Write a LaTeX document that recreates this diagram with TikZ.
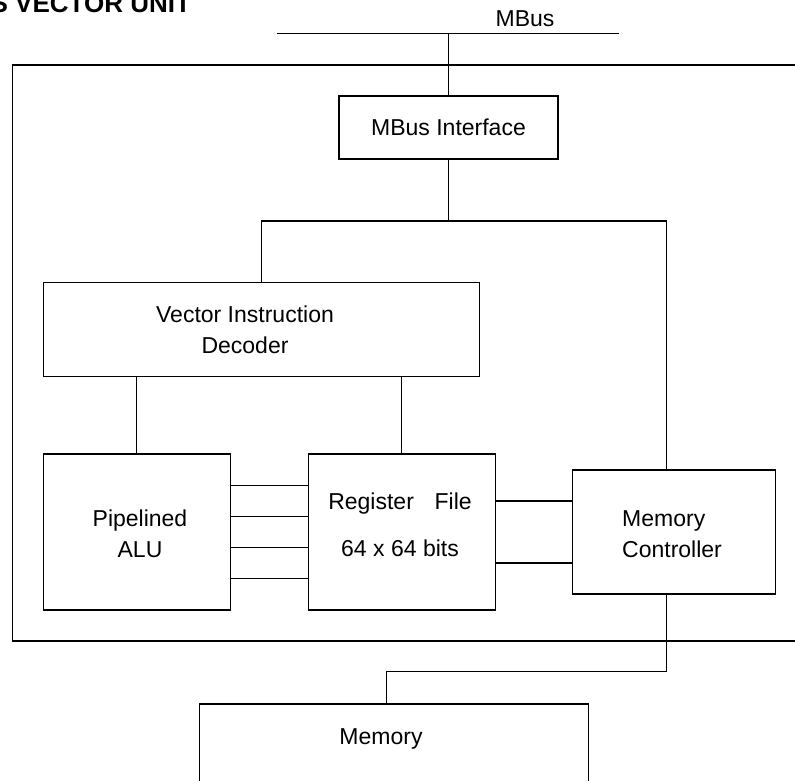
\documentclass[tikz,border=0pt]{standalone}
\usepackage{fontspec}
\setmainfont{Liberation Sans}
\usetikzlibrary{calc}
\tikzset{
  every picture/.style={
    x=1pt, y=-1pt,                  % one unit is one pixel of the sheet
    line join=miter,
  },
  unit/.style={draw, line width=1.3pt, inner sep=0pt},
  wire/.style={line width=1.1pt},
  txt/.style={font=\fontsize{23}{31}\selectfont, inner sep=0pt},
}

\begin{document}
\begin{tikzpicture}
\useasboundingbox (0,0) rectangle (795,780);
% title and bus
\node[anchor=base west, inner sep=0pt, font=\fontsize{26}{30}\selectfont\bfseries] (title) at (-9.5,12) {S VECTOR UNIT};
\coordinate (busL) at (277,33.3);
\coordinate (busR) at (619,33.3);
\draw[wire] (busL) -- (busR);
\node[txt, anchor=base] (buslbl) at (525,26.7) {MBus};
% outline of the unit
\draw[unit] (12.7,65) rectangle (805,641);
% blocks
\node[unit, txt, minimum width=219pt, minimum height=63pt] (mbi) at (448.5,127.5) {MBus Interface};
\node[unit, minimum width=436pt, minimum height=94pt] (vid) at (261.4,329.8) {};
\node[txt, align=center] (vidlbl) at (245,330) {Vector Instruction\\Decoder};
\node[unit, minimum width=187pt, minimum height=156pt] (alu) at (136.8,532) {};
\node[txt, align=center] (alulbl) at (140,533.4) {Pipelined\\ALU};
\node[unit, minimum width=187pt, minimum height=156pt] (reg) at (401.7,532) {};
\node[txt, font=\fontsize{23}{46.7}\selectfont, align=center] (reglbl) at (400,525.1) {Register\hspace{0.9em}File\\64 x 64 bits};
\node[unit, minimum width=203pt, minimum height=124pt] (mc) at (674.2,532) {};
\node[txt, font=\fontsize{23}{30.5}\selectfont, align=left, anchor=west] (mclbl) at (622,534) {Memory\\Controller};
\node[unit, minimum width=389pt, minimum height=110pt, anchor=north] (mem) at (394.1,703.3) {};
\node[txt, anchor=base] (memlbl) at (381,744) {Memory};
% connections
\draw[wire] (mbi.north) -- (mbi.north |- busL);
\coordinate (split) at (448.5,221);
\coordinate (mcin) at (666.3,221);
\draw[wire] (mbi.south) -- (split);
\draw[wire] (vid.north) |- (split) -- (mcin) -- (mcin |- mc.north);
\draw[wire] (vid.south -| alu.north) -- (alu.north);
\draw[wire] (vid.south -| reg.north) -- (reg.north);
\foreach \dy in {-46.5,-15.5,15.5,46.5}
  \draw[wire] ([yshift=\dy pt]alu.east) -- ([yshift=\dy pt]reg.west);
\foreach \dy in {-31,31}
  \draw[wire] ([yshift=\dy pt]reg.east) -- ([yshift=\dy pt]mc.west);
\coordinate (mcout) at (666.3,671.7);
\draw[wire] (mcout |- mc.south) -- (mcout) -| ([xshift=-8pt]mem.north);
\end{tikzpicture}
\end{document}
